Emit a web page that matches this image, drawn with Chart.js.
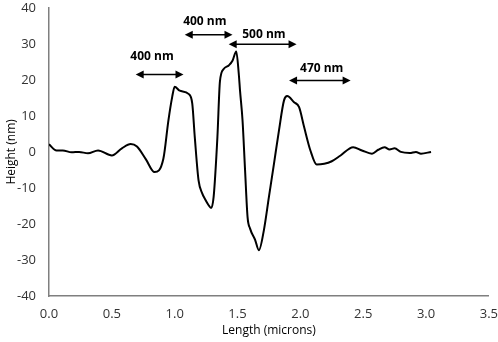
<!DOCTYPE html>
<html>
<head>
<meta charset="utf-8">
<script src="https://cdn.jsdelivr.net/npm/chart.js@4"></script>
<style>
  html, body { margin: 0; padding: 0; background: #fff; }
  #wrap { width: 498px; height: 342px; position: relative; }
</style>
</head>
<body>
<div id="wrap"><canvas id="chart-profile"></canvas></div>
<script>
// Height profile along the scan line (microns, nm)
const lengthUm = [0.00, 0.06, 0.11, 0.18, 0.24, 0.31, 0.39, 0.50, 0.58, 0.65, 0.70, 0.77, 0.84, 0.91, 0.95,
  0.98, 1.00, 1.04, 1.11, 1.14, 1.16, 1.19, 1.22, 1.24, 1.27, 1.29, 1.31, 1.34, 1.36, 1.39, 1.43,
  1.46, 1.49, 1.51, 1.52, 1.54, 1.56, 1.58, 1.60, 1.64, 1.67, 1.71, 1.75, 1.79, 1.83, 1.87, 1.895,
  1.95, 1.99, 2.03, 2.08, 2.13, 2.19, 2.25, 2.32, 2.42, 2.49, 2.57, 2.62, 2.67, 2.71, 2.75, 2.80,
  2.87, 2.92, 2.96, 3.04];
const heightNm = [2.1, 0.4, 0.4, -0.1, 0.0, -0.4, 0.4, -1.0, 1.0, 2.2, 1.5, -2.0, -5.6, -1.9, 8.7,
  15.2, 18.1, 17.0, 16.1, 13.4, 4.1, -7.9, -11.6, -13.0, -14.8, -15.6, -12.5, 4.1, 19.5, 23.0, 24.0,
  25.3, 27.9, 21.7, 17.0, 8.7, -5.0, -18.1, -21.3, -24.4, -27.3, -21.7, -12.5, -3.3, 6.0, 14.3, 15.5,
  13.8, 12.4, 6.9, 0.4, -3.5, -3.3, -2.6, -1.0, 1.3, 0.4, -0.5, 0.6, 1.3, 0.7, 1.0, 0.0,
  -0.3, 0.0, -0.5, 0.0];

// Width annotations (double arrows)
const spanLabels = ["400 nm", "400 nm", "500 nm", "470 nm"];
const spanStart = [0.69, 1.08, 1.43, 1.91];
const spanEnd = [1.07, 1.46, 1.97, 2.40];
const spanArrowY = [21.5, 32.5, 29.9, 19.8];
const spanLabelX = [0.82, 1.24, 1.71, 2.17];
const spanLabelY = [26.4, 36.2, 32.5, 23.2];

const FONT = "'Open Sans', 'Liberation Sans', Arial, sans-serif";

function drawHead(ctx, x, y, dir) {
  ctx.beginPath();
  ctx.moveTo(x, y);
  ctx.lineTo(x - dir * 8, y - 4);
  ctx.lineTo(x - dir * 8, y + 4);
  ctx.closePath();
  ctx.fill();
}

const spanPlugin = {
  id: "spans",
  afterDatasetsDraw(chart) {
    const { ctx, scales: { x, y } } = chart;
    ctx.save();
    ctx.strokeStyle = "#000";
    ctx.fillStyle = "#000";
    ctx.lineWidth = 1.6;
    spanLabels.forEach((label, i) => {
      const x0 = x.getPixelForValue(spanStart[i]);
      const x1 = x.getPixelForValue(spanEnd[i]);
      const yy = y.getPixelForValue(spanArrowY[i]);
      ctx.beginPath();
      ctx.moveTo(x0 + 4, yy);
      ctx.lineTo(x1 - 4, yy);
      ctx.stroke();
      drawHead(ctx, x0, yy, -1);
      drawHead(ctx, x1, yy, 1);
      ctx.font = "bold 12px " + FONT;
      ctx.textAlign = "center";
      ctx.textBaseline = "middle";
      ctx.fillText(label, x.getPixelForValue(spanLabelX[i]), y.getPixelForValue(spanLabelY[i]));
    });
    ctx.restore();
  },
};

new Chart(document.getElementById("chart-profile"), {
  type: "line",
  data: {
    datasets: [{
      data: lengthUm.map((v, i) => ({ x: v, y: heightNm[i] })),
      borderColor: "#000",
      borderWidth: 2,
      pointRadius: 0,
      tension: 0.4,
      cubicInterpolationMode: "monotone",
      fill: false,
    }],
  },
  options: {
    responsive: true,
    maintainAspectRatio: false,
    animation: false,
    layout: { padding: 0 },
    plugins: { legend: { display: false }, tooltip: { enabled: false } },
    scales: {
      x: {
        type: "linear",
        min: 0, max: 3.5,
        afterFit: (s) => { s.height = 46; },
        ticks: { stepSize: 0.5, color: "#333", padding: 0, font: { size: 13, family: FONT }, callback: (v) => v.toFixed(1) },
        // ticks are not drawn (display off) but their length spaces the labels
        grid: { display: false, drawTicks: true, tickLength: 10 },
        border: { color: "#7f7f7f", width: 1.5 },
        title: { display: true, text: "Length (microns)", color: "#000", font: { size: 12, family: FONT }, padding: { top: 0 } },
      },
      y: {
        min: -40, max: 40,
        afterFit: (s) => { s.width = 49; },
        ticks: { stepSize: 10, color: "#333", padding: 0, font: { size: 13, family: FONT } },
        grid: { display: false, drawTicks: true, tickLength: 13 },
        border: { color: "#7f7f7f", width: 1.5 },
        title: { display: true, text: "Height (nm)", color: "#000", font: { size: 12, family: FONT }, padding: { bottom: 0 } },
      },
    },
  },
  plugins: [spanPlugin],
});
</script>
</body>
</html>
